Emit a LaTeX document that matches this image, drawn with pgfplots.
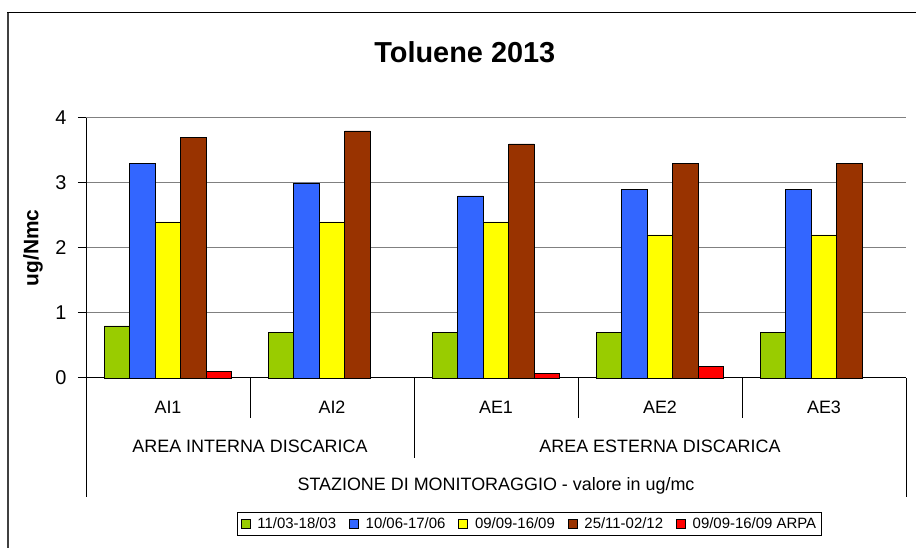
\documentclass[border=0pt]{standalone}
\usepackage{fontspec}
\setmainfont{Liberation Sans}
\usepackage{pgfplots}
\pgfplotsset{compat=1.18}
\definecolor{cgreen}{HTML}{99CC00}
\definecolor{cblue}{HTML}{3366FF}
\definecolor{cyellow}{HTML}{FFFF00}
\definecolor{cbrown}{HTML}{993300}
\definecolor{cred}{HTML}{FF0000}
\pgfplotsset{
  mybar/.style={fill=#1, draw=black, line width=0.8bp,
    legend image code/.code={\draw[fill=#1, draw=black, line width=0.6bp] (0bp,-4.5bp) rectangle (9bp,4.5bp);}},
}
\begin{document}
\begin{tikzpicture}
\path[use as bounding box] (0bp,0bp) rectangle (916bp,548bp);
\draw[line width=2bp, black!75] (8bp,0bp) -- (8bp,535bp);
\draw[line width=1bp, black] (7bp,535bp) -- (916bp,535bp);
\begin{axis}[
  at={(86bp,170bp)}, anchor=south west,
  scale only axis, width=820bp, height=260bp,
  xmin=-0.5, xmax=4.5, ymin=0, ymax=4,
  ybar=0pt, bar width=25.5bp,
  axis x line*=bottom, axis y line*=left,
  axis line style={black, line width=1bp},
  ymajorgrids, grid style={black!50, line width=1bp},
  ytick={0,1,2,3,4},
  xtick={0,1,2,3,4}, xticklabels={AI1,AI2,AE1,AE2,AE3},
  tick align=outside, major tick length=8bp,
  xtick style={draw=none},
  ytick style={black, line width=1bp},
  /pgf/number format/assume math mode=true,
  yticklabel style={font=\fontsize{20}{20}\selectfont, xshift=-8bp},
  xticklabel style={font=\fontsize{18}{18}\selectfont, anchor=base, yshift=-27bp},
  xlabel={STAZIONE DI MONITORAGGIO - valore in ug/mc},
  xlabel style={font=\fontsize{18}{18}\selectfont, at={(axis description cs:0.5,0)}, anchor=base, yshift=-112.7bp},
  ylabel={ug/Nmc},
  ylabel style={font=\bfseries\fontsize{21}{21}\selectfont, at={(axis description cs:-0.0646,0.5)}, anchor=center},
  title={Toluene 2013},
  title style={font=\bfseries\fontsize{29}{29}\selectfont, at={(axis description cs:0.462,1.1923)}, anchor=base},
  legend columns=5,
  legend style={at={(axis description cs:0.5409,-0.5615)}, anchor=center, draw=black, line width=0.8bp,
    font=\fontsize{15}{15}\selectfont, inner sep=3bp,
    nodes={inner sep=2bp},
    /tikz/every odd column/.append style={column sep=5bp},
    /tikz/every even column/.append style={column sep=11bp}},
  clip=false,
]
\addplot[mybar=cgreen] coordinates {(0,0.8) (1,0.7) (2,0.7) (3,0.7) (4,0.7)};
\addplot[mybar=cblue] coordinates {(0,3.3) (1,3.0) (2,2.8) (3,2.9) (4,2.9)};
\addplot[mybar=cyellow] coordinates {(0,2.4) (1,2.4) (2,2.4) (3,2.2) (4,2.2)};
\addplot[mybar=cbrown] coordinates {(0,3.7) (1,3.8) (2,3.6) (3,3.3) (4,3.3)};
\addplot[mybar=cred] coordinates {(0,0.1) (2,0.07) (3,0.18)};
\legend{11/03-18/03, 10/06-17/06, 09/09-16/09, 25/11-02/12, 09/09-16/09 ARPA}
\draw[black, line width=1bp] (axis cs:0.5,0) -- ++(0bp,-40bp);
\draw[black, line width=1bp] (axis cs:2.5,0) -- ++(0bp,-40bp);
\draw[black, line width=1bp] (axis cs:3.5,0) -- ++(0bp,-40bp);
\draw[black, line width=1bp] (axis cs:1.5,0) -- ++(0bp,-80bp);
\draw[black, line width=1bp] (axis cs:-0.5,0) -- ++(0bp,-119bp);
\draw[black, line width=1bp] (axis cs:4.5,0) -- ++(0bp,-119bp);
\node[font=\fontsize{18}{18}\selectfont, anchor=base] at ([yshift=-74.3bp]axis cs:0.5,0) {AREA INTERNA DISCARICA};
\node[font=\fontsize{18}{18}\selectfont, anchor=base] at ([yshift=-74.3bp]axis cs:3,0) {AREA ESTERNA DISCARICA};
\end{axis}
\end{tikzpicture}
\end{document}
